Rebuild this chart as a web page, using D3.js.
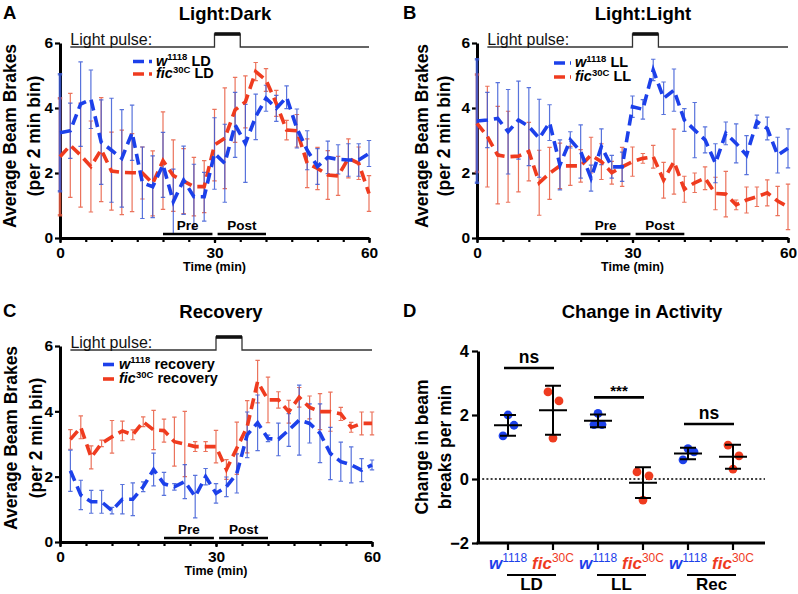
<!DOCTYPE html>
<html><head><meta charset="utf-8">
<script src="https://cdn.jsdelivr.net/npm/d3@7"></script>
<style>
body{margin:0;background:#fff}
svg{display:block}
text{font-family:"Liberation Sans",Arial,Helvetica,sans-serif}
</style>
</head><body>
<svg id="c" width="798" height="594"></svg>
<script>
// ---------- DATA ----------
const timeAB = [0,2,4,6,8,10,12,14,16,18,20,22,24,26,28,30,32,34,36,38,40,42,44,46,48,50,52,54,56,58,60];
const timeC  = [2,4,6,8,10,12,14,16,18,20,22,24,26,28,30,32,34,36,38,40,42,44,46,48,50,52,54,56,58,60];

const ldW    = [3.24,3.3,4.12,4.27,2.95,2.7,2.45,3.24,1.7,1.58,2.25,1.12,1.78,1.27,1.27,2.6,2.3,3.48,2.91,3.73,4.3,3.99,4.33,3.37,2.7,2.2,2.48,2.42,2.4,2.4,2.6];
const ldWerr = [1.8,0.85,1.3,0.9,1.3,1.6,1.5,0.85,1.1,0.95,1.0,1.0,1.05,1.0,0.75,1.1,1.2,1.0,1.2,0.7,0.4,0.4,0.35,0.6,0.6,0.55,0.5,0.45,0.5,0.5,0.4];
const ldF    = [2.5,2.85,2.55,2.2,2.72,2.06,2.02,2.01,2.0,1.68,2.38,1.92,1.75,1.58,1.58,2.86,3.07,3.94,4.19,5.12,4.86,4.14,3.32,3.3,2.3,2.14,1.94,1.91,2.45,2.3,1.37];
const ldFerr = [1.8,1.6,1.6,1.4,1.6,1.2,1.3,1.2,0.8,1.0,1.5,1.1,1.0,0.9,0.8,1.1,1.55,1.0,0.8,0.28,0.35,0.4,0.3,0.5,0.75,0.65,0.75,0.6,0.6,0.5,0.55];

const llW    = [3.6,3.63,3.68,3.27,3.63,3.43,3.07,3.55,2.25,3.02,2.66,1.84,2.81,2.19,2.19,4.04,3.96,5.17,4.3,4.55,3.63,3.32,3.02,2.3,3.22,2.91,2.55,3.58,3.37,2.55,2.76];
const llWerr = [1.9,0.85,1.1,1.3,1.2,1.2,1.2,0.55,0.77,0.25,0.82,0.4,0.55,0.35,0.45,0.33,0.3,0.33,0.5,0.65,0.35,0.85,0.4,0.6,0.35,0.6,0.6,0.2,0.35,0.55,0.6];
const llF    = [3.53,3.12,2.55,2.5,2.52,2.66,1.7,1.99,2.22,2.22,2.22,2.55,2.35,2.01,2.19,2.35,2.45,2.5,1.78,2.35,1.5,1.7,1.84,1.37,1.35,1.02,1.17,1.27,1.39,1.14,0.96];
const llFerr = [1.5,1.55,1.5,1.4,1.1,0.9,1.0,0.8,0.7,0.6,0.5,0.55,0.55,0.35,0.6,0.45,0.15,0.35,0.55,1.0,0.4,0.3,0.35,0.5,0.7,0.15,0.4,0.3,0.4,0.45,0.7];

const recW    = [2.18,1.44,1.23,1.23,0.96,1.31,1.31,1.69,2.22,1.78,1.69,1.85,1.39,2.0,1.49,1.69,2.1,3.28,3.65,3.17,3.14,3.43,3.73,3.63,3.33,2.71,2.46,2.36,2.2,2.36];
const recWerr = [0.63,0.45,0.35,0.35,0.1,0.45,0.5,0.15,0.5,0.35,0.1,0.52,0.65,0.25,0.3,0.3,0.6,0.7,0.85,0.1,0.5,0.5,1.07,0.6,0.9,0.8,0.6,0.55,0.35,0.15];
const recF    = [3.14,3.51,2.59,3.02,3.22,3.4,3.28,3.68,3.43,3.41,3.07,3.0,2.92,2.92,2.92,2.22,2.87,3.53,4.91,4.35,4.35,3.99,4.43,4.12,3.99,3.99,3.92,3.51,3.63,3.63];
const recFerr = [0.3,0.35,0.35,0.1,0.5,0.3,0.15,0.15,0.6,0.35,0.75,1.0,0.15,0.15,0.5,0.3,0.8,0.8,0.65,0.7,0.25,0.35,0.3,0.35,0.55,0.6,0.2,0.15,0.35,0.35];

const yTicksTime   = [0,2,4,6];
const xTicksMinor  = [0,5,10,15,20,25,30,35,40,45,50,55,60];
const xTicksLabels = [0,30,60];
const pulseStart = 30, pulseEnd = 35;
const preWindow  = [20,29.6];
const postWindow = [30.6,40];

// Panel D
const dGenotype = ["w","fic","w","fic","w","fic"];
const dSuper    = ["1118","30C","1118","30C","1118","30C"];
const dGroups   = ["LD","LL","Rec"];
const dValues   = [[2.0,1.68,1.35],[2.72,2.44,1.28],[2.05,1.7,1.7],[0.22,0.1,-0.66],[0.95,0.85,0.6],[1.06,0.72,0.31]];
const dYTicks   = [-2,0,2,4];
const dSig      = [{a:0,b:1,v:3.47,label:"ns"},{a:2,b:3,v:2.55,label:"***"},{a:4,b:5,v:1.72,label:"ns"}];

// ---------- STYLE ----------
const BLUE = "#1c40ea", RED = "#ef3b1f";
const BLUE_ERR = "#3b5ad6", RED_ERR = "#e85a40";
const svg = d3.select("#c");
const fmt = d3.format("d");

function styleAxis(a, fs, w) {
  a.attr("font-family", null).attr("font-size", null);
  a.select(".domain").attr("stroke-width", w).attr("stroke", "#000");
  a.selectAll(".tick line").attr("stroke-width", 2.2).attr("stroke", "#000");
  a.selectAll(".tick text").attr("font-size", fs).attr("font-weight", "bold").attr("fill", "#000")
    .style("font-family", '"Liberation Sans", Arial, sans-serif');
}

function legendText(g, x, y, geno, sup, rest) {
  const t = g.append("text").attr("x", x).attr("y", y).attr("font-size", 14.5).attr("font-weight", "bold").attr("fill", "#000");
  t.append("tspan").attr("font-style", "italic").text(geno);
  t.append("tspan").attr("font-size", 9.5).attr("dy", -5.5).text(sup);
  t.append("tspan").attr("dy", 5.5).text(rest);
}

function timePanel(cfg) {
  const x = d3.scaleLinear().domain([0, 60]).range([cfg.x0, cfg.x1]);
  const y = d3.scaleLinear().domain([0, 6]).range([cfg.yb, cfg.yt]);
  const g = svg.append("g");

  g.append("text").attr("x", cfg.lx).attr("y", cfg.ly).attr("font-size", 18.5).attr("font-weight", "bold").text(cfg.letter);
  g.append("text").attr("x", cfg.tx).attr("y", cfg.ty).attr("text-anchor", "middle").attr("font-size", 18.5).attr("font-weight", "bold").text(cfg.title);

  // light pulse indicator
  const base = y(6) + 4, top = y(6) - 9;
  g.append("path").attr("d", `M${x(2)},${base}H${x(pulseStart)}V${top}H${x(pulseEnd)}V${base}H${x(60)}`)
    .attr("fill", "none").attr("stroke", "#333").attr("stroke-width", 1.3);
  g.append("line").attr("x1", x(pulseStart)).attr("x2", x(pulseEnd)).attr("y1", top).attr("y2", top)
    .attr("stroke", "#111").attr("stroke-width", 3.6);
  g.append("text").attr("x", x(2)).attr("y", base - 2).attr("font-size", 16).attr("fill", "#111").text("Light pulse:");

  // y axis title
  const yt = g.append("g").attr("transform", `translate(0,${cfg.ycy})`);
  yt.append("text").attr("transform", `translate(${cfg.yl1},0) rotate(-90)`).attr("text-anchor", "middle")
    .attr("font-size", 17.5).attr("font-weight", "bold").text("Average Beam Brakes");
  yt.append("text").attr("transform", `translate(${cfg.yl2},0) rotate(-90)`).attr("text-anchor", "middle")
    .attr("font-size", 17.5).attr("font-weight", "bold").text("(per 2 min bin)");

  // axes (drawn first, data over them as in the reference)
  g.append("g").attr("transform", `translate(${cfg.x0},0)`)
    .call(d3.axisLeft(y).tickValues(yTicksTime).tickFormat(fmt).tickSize(5).tickSizeOuter(0).tickPadding(2))
    .call(a => styleAxis(a, 15.5, 3));
  g.append("g").attr("transform", `translate(0,${cfg.yb})`)
    .call(d3.axisBottom(x).tickValues(xTicksMinor).tickSize(4).tickSizeOuter(0).tickFormat(""))
    .call(a => styleAxis(a, 15, 3));
  g.append("g").attr("transform", `translate(0,${cfg.yb})`)
    .call(d3.axisBottom(x).tickValues(xTicksLabels).tickFormat(fmt).tickSize(5).tickSizeOuter(0).tickPadding(4))
    .call(a => { styleAxis(a, 15.5, 3); a.select(".domain").remove(); });
  g.append("text").attr("x", x(30)).attr("y", cfg.yb + 33).attr("text-anchor", "middle")
    .attr("font-size", 12.5).attr("font-weight", "bold").text("Time (min)");

  // error bars
  cfg.series.forEach(s => {
    const eg = g.append("g").attr("stroke", s.errColor).attr("stroke-width", 1.2).attr("fill", "none").attr("stroke-opacity", 0.85);
    s.t.forEach((t, i) => {
      const m = s.mean[i], e = s.err[i];
      const px = x(t), y1 = y(m + e), y2 = y(Math.max(0, m - e));
      eg.append("path").attr("d", `M${px},${y1}V${y2}M${px - 2.2},${y1}H${px + 2.2}M${px - 2.2},${y2}H${px + 2.2}`)
        .attr("stroke-width", t === 0 ? 2.6 : 1.2);
    });
  });
  // lines
  cfg.series.forEach(s => {
    const line = d3.line().x((d, i) => x(s.t[i])).y(d => y(d));
    g.append("path").datum(s.mean).attr("d", line).attr("fill", "none").attr("stroke", s.color)
      .attr("stroke-width", 3.6).attr("stroke-dasharray", "11,6");
  });

  // pre / post windows
  [[preWindow, "Pre"], [postWindow, "Post"]].forEach(([w, lab]) => {
    g.append("line").attr("x1", x(w[0])).attr("x2", x(w[1])).attr("y1", cfg.yb - 4).attr("y2", cfg.yb - 4)
      .attr("stroke", "#000").attr("stroke-width", 2.5);
    g.append("text").attr("x", (x(w[0]) + x(w[1])) / 2).attr("y", cfg.yb - 8.5).attr("text-anchor", "middle")
      .attr("font-size", 13.5).attr("font-weight", "bold").text(lab);
  });

  // legend
  cfg.legend.forEach((L, i) => {
    const by = cfg.legY[i];
    g.append("line").attr("x1", cfg.legX0).attr("x2", cfg.legX1).attr("y1", by - 4).attr("y2", by - 4)
      .attr("stroke", L.color).attr("stroke-width", 3.6).attr("stroke-dasharray", "11,5");
    legendText(g, cfg.legTx, by, L.geno, L.sup, L.rest);
  });
}

timePanel({
  letter: "A", lx: 3, ly: 19, title: "Light:Dark", tx: 225, ty: 20,
  x0: 60, x1: 369, yb: 238, yt: 43, ycy: 136, yl1: 16, yl2: 39.5,
  series: [
    {t: timeAB, mean: ldF, err: ldFerr, color: RED, errColor: RED_ERR},
    {t: timeAB, mean: ldW, err: ldWerr, color: BLUE, errColor: BLUE_ERR}
  ],
  legend: [{geno: "w", sup: "1118", rest: " LD", color: BLUE}, {geno: "fic", sup: "30C", rest: " LD", color: RED}],
  legX0: 133, legX1: 152, legTx: 156, legY: [65.5, 78]
});

timePanel({
  letter: "B", lx: 403, ly: 19, title: "Light:Light", tx: 643, ty: 20,
  x0: 477, x1: 788, yb: 238, yt: 43, ycy: 136, yl1: 428, yl2: 450,
  series: [
    {t: timeAB, mean: llF, err: llFerr, color: RED, errColor: RED_ERR},
    {t: timeAB, mean: llW, err: llWerr, color: BLUE, errColor: BLUE_ERR}
  ],
  legend: [{geno: "w", sup: "1118", rest: " LL", color: BLUE}, {geno: "fic", sup: "30C", rest: " LL", color: RED}],
  legX0: 554, legX1: 571, legTx: 575, legY: [67, 81]
});

timePanel({
  letter: "C", lx: 3, ly: 317, title: "Recovery", tx: 221, ty: 318,
  x0: 60, x1: 372, yb: 542, yt: 346, ycy: 438, yl1: 17, yl2: 42,
  series: [
    {t: timeC, mean: recF, err: recFerr, color: RED, errColor: RED_ERR},
    {t: timeC, mean: recW, err: recWerr, color: BLUE, errColor: BLUE_ERR}
  ],
  legend: [{geno: "w", sup: "1118", rest: " recovery", color: BLUE}, {geno: "fic", sup: "30C", rest: " recovery", color: RED}],
  legX0: 103, legX1: 115, legTx: 119, legY: [368.5, 383]
});

// ---------- PANEL D ----------
(function () {
  const g = svg.append("g");
  const y = d3.scaleLinear().domain([-2, 4]).range([543, 351]);
  const x = d3.scalePoint().domain(d3.range(dValues.length)).range([508, 733]);
  const jitter = [[0, 6, -5], [-5, 6, 0], [0, -4, 4], [-6, 6, 0], [0, 6, -5], [-5, 6, 0]];
  const colorOf = gname => gname === "w" ? BLUE : RED;

  g.append("text").attr("x", 403).attr("y", 317).attr("font-size", 18.5).attr("font-weight", "bold").text("D");
  g.append("text").attr("x", 642).attr("y", 318).attr("text-anchor", "middle").attr("font-size", 18.5).attr("font-weight", "bold").text("Change in Activity");

  g.append("text").attr("transform", `translate(428,447) rotate(-90)`).attr("text-anchor", "middle")
    .attr("font-size", 17.5).attr("font-weight", "bold").text("Change in beam");
  g.append("text").attr("transform", `translate(451,447) rotate(-90)`).attr("text-anchor", "middle")
    .attr("font-size", 17.5).attr("font-weight", "bold").text("breaks per min");

  // zero line
  g.append("line").attr("x1", 478).attr("x2", 765).attr("y1", y(0)).attr("y2", y(0))
    .attr("stroke", "#000").attr("stroke-width", 1.6).attr("stroke-dasharray", "2,2.2");

  // points
  dValues.forEach((vals, i) => {
    vals.forEach((v, j) => {
      g.append("circle").attr("cx", x(i) + jitter[i][j]).attr("cy", y(v)).attr("r", 4.4).attr("fill", colorOf(dGenotype[i]));
    });
  });
  // mean +/- SD
  dValues.forEach((vals, i) => {
    const m = d3.mean(vals), sd = d3.deviation(vals), cx = x(i);
    const p = `M${cx - 14},${y(m)}H${cx + 14}M${cx},${y(m + sd)}V${y(m - sd)}M${cx - 8},${y(m + sd)}H${cx + 8}M${cx - 8},${y(m - sd)}H${cx + 8}`;
    g.append("path").attr("d", p).attr("fill", "none").attr("stroke", "#000").attr("stroke-width", 2);
  });

  // axes
  g.append("g").attr("transform", "translate(478,0)")
    .call(d3.axisLeft(y).tickValues(dYTicks).tickFormat(fmt).tickSize(6).tickSizeOuter(0).tickPadding(3))
    .call(a => styleAxis(a, 16.5, 3));
  g.append("line").attr("x1", 476.5).attr("x2", 765).attr("y1", 543).attr("y2", 543).attr("stroke", "#000").attr("stroke-width", 3);
  dValues.forEach((v, i) => {
    g.append("line").attr("x1", x(i)).attr("x2", x(i)).attr("y1", 543).attr("y2", 550).attr("stroke", "#000").attr("stroke-width", 2.2);
    const t = g.append("text").attr("x", x(i)).attr("y", 569).attr("text-anchor", "middle").attr("fill", colorOf(dGenotype[i]));
    t.append("tspan").attr("font-size", 17).attr("font-weight", "bold").attr("font-style", "italic").text(dGenotype[i]);
    t.append("tspan").attr("font-size", 12).attr("dy", -7).text(dSuper[i]);
  });
  dGroups.forEach((lab, k) => {
    const x1 = x(2 * k) - 1, x2 = x(2 * k + 1) + 3;
    g.append("line").attr("x1", x1).attr("x2", x2).attr("y1", 575).attr("y2", 575).attr("stroke", "#000").attr("stroke-width", 2);
    g.append("text").attr("x", (x1 + x2) / 2).attr("y", 590).attr("text-anchor", "middle")
      .attr("font-size", 17).attr("font-weight", "bold").text(lab);
  });

  // significance
  dSig.forEach(s => {
    const x1 = x(s.a) - 4, x2 = x(s.b) + 1;
    g.append("line").attr("x1", x1).attr("x2", x2).attr("y1", y(s.v)).attr("y2", y(s.v)).attr("stroke", "#000").attr("stroke-width", 2.6);
    const star = s.label.startsWith("*");
    g.append("text").attr("x", (x1 + x2) / 2).attr("y", y(s.v) - (star ? 1 : 4.5)).attr("text-anchor", "middle")
      .attr("font-size", star ? 15 : 17.5).attr("font-weight", "bold").text(s.label);
  });
})();
</script>
</body></html>
